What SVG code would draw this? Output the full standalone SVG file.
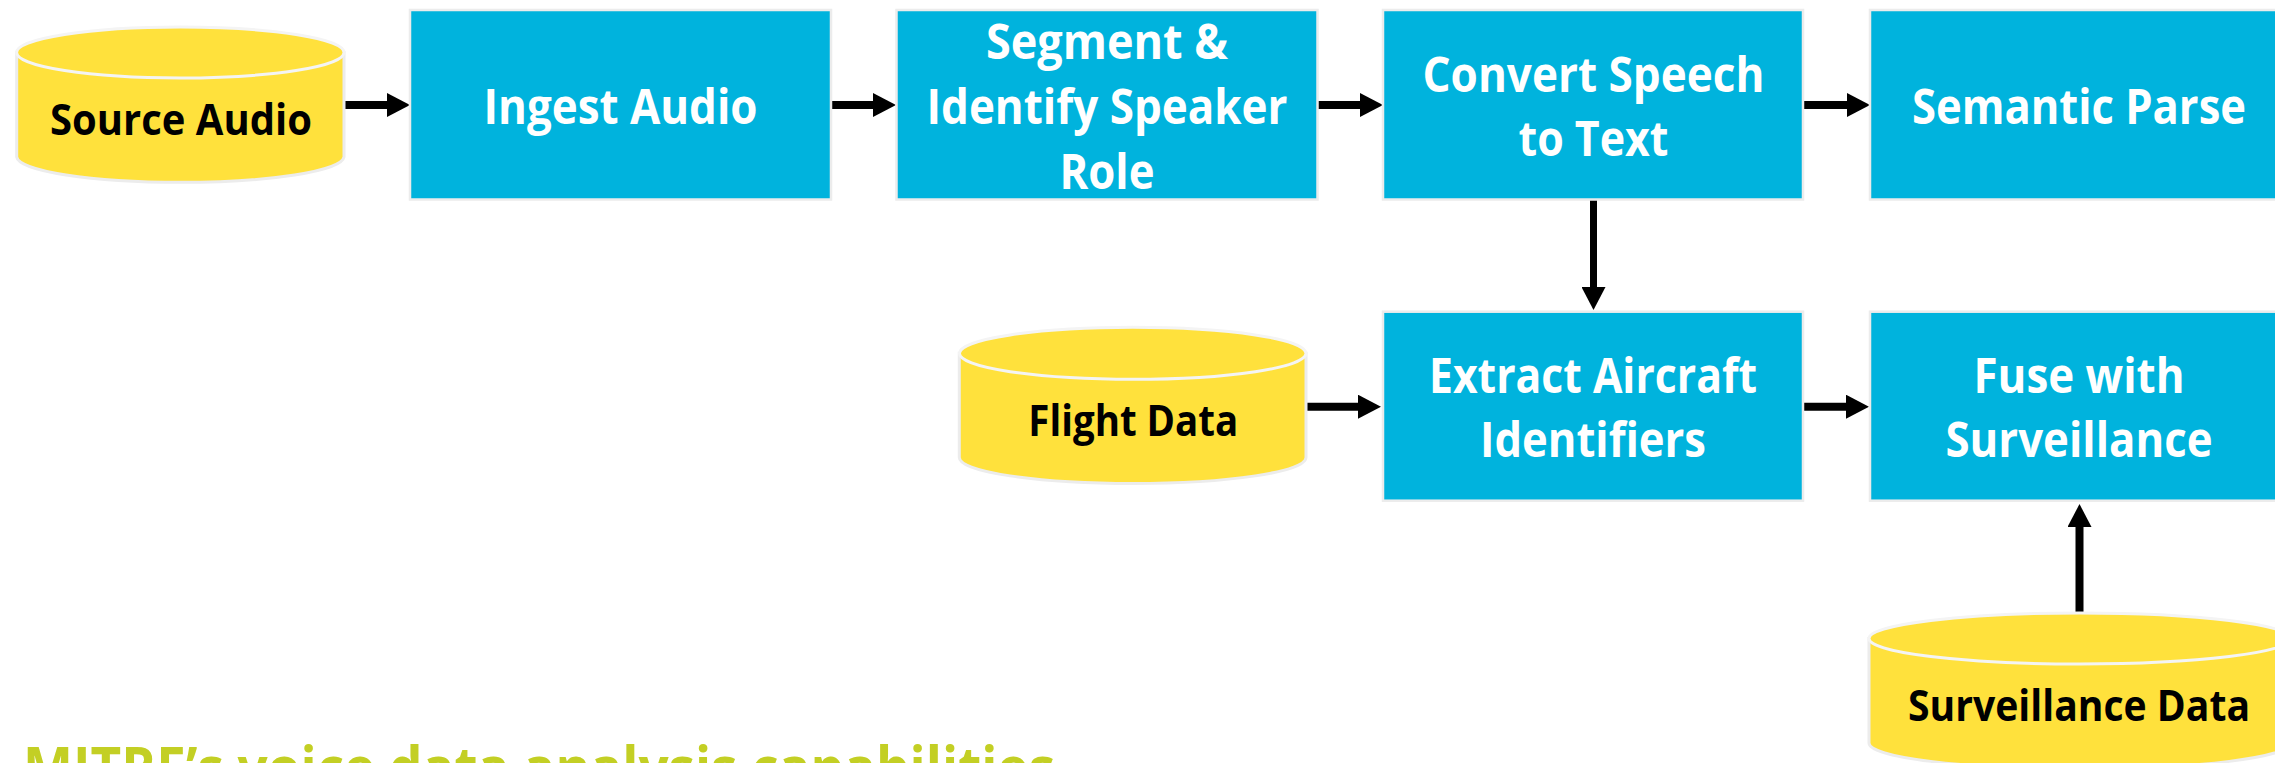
<svg xmlns="http://www.w3.org/2000/svg" width="2275" height="763" viewBox="0 0 2275 763">
<style>
.box{fill:#00B3DD;stroke:#ECECEC;stroke-width:2.5}
.cyl{fill:#FFE13C;stroke:#ECECEC;stroke-width:3}
.rim{fill:#FFE13C;stroke:#F4F4F4;stroke-width:3}
.bt{font-family:"Open Sans","Noto Sans","Liberation Sans",sans-serif;font-weight:700;font-size:48px;fill:#FFFFFF;text-anchor:middle}
.ct{font-family:"Open Sans","Noto Sans","Liberation Sans",sans-serif;font-weight:700;font-size:43px;fill:#000000;text-anchor:middle}
.title{font-family:"Open Sans","Noto Sans","Liberation Sans",sans-serif;font-weight:700;font-size:57px;fill:#C3CF24}
.conn{stroke:#000000;stroke-width:8;fill:none}
</style>
<defs>
<marker id="ah" markerUnits="userSpaceOnUse" markerWidth="24" markerHeight="24" refX="1" refY="12" orient="auto" viewBox="0 0 23 24">
<path d="M0,0 L23,12 L0,24 Z" fill="#000000"/>
</marker>
</defs>
<rect width="2275" height="763" fill="#FFFFFF"/>

<g id="connectors">
<line class="conn" x1="345" y1="105" x2="388" y2="105" marker-end="url(#ah)"/>
<line class="conn" x1="831" y1="105" x2="874" y2="105" marker-end="url(#ah)"/>
<line class="conn" x1="1318" y1="105" x2="1361" y2="105" marker-end="url(#ah)"/>
<line class="conn" x1="1803" y1="105" x2="1848" y2="105" marker-end="url(#ah)"/>
<line class="conn" style="stroke-width:7" x1="1593.5" y1="200" x2="1593.5" y2="288" marker-end="url(#ah)"/>
<line class="conn" x1="1306" y1="406.7" x2="1359" y2="406.7" marker-end="url(#ah)"/>
<line class="conn" x1="1803" y1="406.7" x2="1847" y2="406.7" marker-end="url(#ah)"/>
<line class="conn" x1="2079.5" y1="612" x2="2079.5" y2="526" marker-end="url(#ah)"/>
</g>

<g id="source-audio">
<path class="cyl" d="M16.7,52.5 L16.7,157 A163.7,26 0 0 0 344,157 L344,52.5 Z"/>
<ellipse class="rim" cx="180.3" cy="52.5" rx="163.7" ry="25.5"/>
<text class="ct" x="181" y="135" textLength="262" lengthAdjust="spacingAndGlyphs">Source Audio</text>
</g>

<g id="ingest-audio">
<rect class="box" x="410" y="10" width="421" height="189.5"/>
<text class="bt" x="620.5" y="124" textLength="274" lengthAdjust="spacingAndGlyphs">Ingest Audio</text>
</g>

<g id="segment">
<rect class="box" x="896.5" y="10" width="421" height="189.5"/>
<text class="bt" x="1107" y="59" textLength="242" lengthAdjust="spacingAndGlyphs">Segment &amp;</text>
<text class="bt" x="1107" y="124" textLength="361" lengthAdjust="spacingAndGlyphs">Identify Speaker</text>
<text class="bt" x="1107" y="188.5" textLength="95" lengthAdjust="spacingAndGlyphs">Role</text>
</g>

<g id="convert">
<rect class="box" x="1383" y="10" width="420" height="189.5"/>
<text class="bt" x="1593.5" y="91.7" textLength="342" lengthAdjust="spacingAndGlyphs">Convert Speech</text>
<text class="bt" x="1593.5" y="155.7" textLength="150" lengthAdjust="spacingAndGlyphs">to Text</text>
</g>

<g id="semantic-parse">
<rect class="box" x="1870" y="10" width="421" height="189.5"/>
<text class="bt" x="2079" y="124" textLength="334" lengthAdjust="spacingAndGlyphs">Semantic Parse</text>
</g>

<g id="flight-data">
<path class="cyl" d="M959.3,353.3 L959.3,457.5 A173.3,26 0 0 0 1306,457.5 L1306,353.3 Z"/>
<ellipse class="rim" cx="1132.7" cy="353.3" rx="173.3" ry="26"/>
<text class="ct" x="1133.3" y="436" textLength="210" lengthAdjust="spacingAndGlyphs">Flight Data</text>
</g>

<g id="extract">
<rect class="box" x="1383" y="311.7" width="420" height="189"/>
<text class="bt" x="1593" y="393.2" textLength="328" lengthAdjust="spacingAndGlyphs">Extract Aircraft</text>
<text class="bt" x="1593" y="457.2" textLength="226" lengthAdjust="spacingAndGlyphs">Identifiers</text>
</g>

<g id="fuse">
<rect class="box" x="1870" y="311.7" width="421" height="189"/>
<text class="bt" x="2079" y="393.2" textLength="211" lengthAdjust="spacingAndGlyphs">Fuse with</text>
<text class="bt" x="2079" y="457.2" textLength="267" lengthAdjust="spacingAndGlyphs">Surveillance</text>
</g>

<g id="surveillance-data">
<path class="cyl" d="M1869,638.5 L1869,743 A211,26 0 0 0 2291,743 L2291,638.5 Z"/>
<ellipse class="rim" cx="2080" cy="638.5" rx="211" ry="25.5"/>
<text class="ct" x="2079" y="720.7" textLength="342" lengthAdjust="spacingAndGlyphs">Surveillance Data</text>
</g>

<g id="title">
<text class="title" x="23" y="788" textLength="1032" lengthAdjust="spacingAndGlyphs">MITRE’s voice data analysis capabilities</text>
</g>
</svg>
